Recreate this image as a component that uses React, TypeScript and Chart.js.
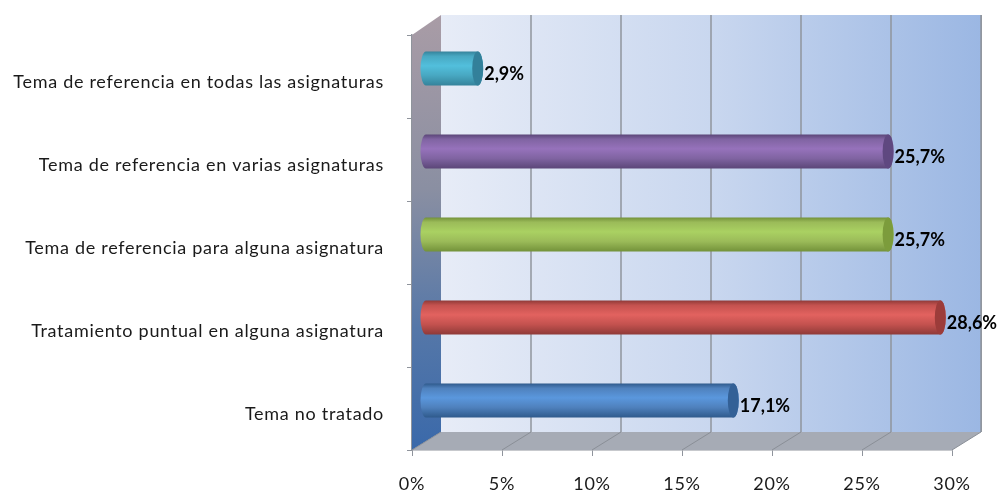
import React, { useEffect, useRef } from "react";
import { Chart, registerables } from "chart.js";

Chart.register(...registerables);

const categories = [
  "Tema de referencia en todas las asignaturas",
  "Tema de referencia en varias asignaturas",
  "Tema de referencia para alguna asignatura",
  "Tratamiento puntual en alguna asignatura",
  "Tema no tratado",
];
const values = [2.9, 25.7, 25.7, 28.6, 17.1];
const valueLabels = ["2,9%", "25,7%", "25,7%", "28,6%", "17,1%"];
const barColors = ["#48a8c2", "#8064a2", "#9bbb59", "#c4524f", "#4f81bd"];
const barLight = ["#52bfdc", "#9672bb", "#aad162", "#e2625f", "#5a97dd"];
const barDark = ["#35839b", "#5b4678", "#73923a", "#8f3a38", "#2f5a8c"];
const barCap = ["#33809a", "#5f4880", "#7c9c3c", "#9c3c3a", "#336096"];

const DX = 29;
const DY = -18;
const DY_TOP = -20;
const BAR_DX = 13.5;
const BAR_DY = -8;
const CAP_RX = 5.5;

const scene = {
  id: "scene3d",
  beforeDraw(chart: any) {
    chart.ctx.letterSpacing = "0.7px";
  },
  beforeDatasetsDraw(chart: any) {
    const { ctx, chartArea: a, scales } = chart;
    const x = scales.x;
    const { left: l, right: r, top: t, bottom: b } = a;
    ctx.save();
    // back wall
    const wall = ctx.createLinearGradient(l + DX, 0, r + DX, 0);
    wall.addColorStop(0, "#e7ecf7");
    wall.addColorStop(0.5, "#c9d7ef");
    wall.addColorStop(1, "#9bb7e3");
    ctx.fillStyle = wall;
    ctx.fillRect(l + DX, t + DY_TOP, r - l, b + DY - t - DY_TOP);
    ctx.strokeStyle = "#9a9fa8";
    ctx.lineWidth = 1;
    ctx.beginPath();
    ctx.moveTo(r + DX + 0.5, t + DY_TOP);
    ctx.lineTo(r + DX + 0.5, b + DY);
    ctx.stroke();
    // side wall
    const side = ctx.createLinearGradient(0, t + DY_TOP, 0, b);
    side.addColorStop(0, "#a99ca6");
    side.addColorStop(0.4, "#8a8fa2");
    side.addColorStop(0.72, "#5577a8");
    side.addColorStop(1, "#3a69aa");
    ctx.fillStyle = side;
    ctx.beginPath();
    ctx.moveTo(l, t);
    ctx.lineTo(l + DX, t + DY_TOP);
    ctx.lineTo(l + DX, b + DY);
    ctx.lineTo(l, b);
    ctx.closePath();
    ctx.fill();
    // floor
    ctx.fillStyle = "#a6abb5";
    ctx.beginPath();
    ctx.moveTo(l, b);
    ctx.lineTo(l + DX, b + DY);
    ctx.lineTo(r + DX, b + DY);
    ctx.lineTo(r, b);
    ctx.closePath();
    ctx.fill();
    // grid lines on wall and floor
    for (const tick of x.ticks) {
      const px = x.getPixelForValue(tick.value);
      if (tick.value > 0) {
        ctx.strokeStyle = "#8f949c";
        ctx.lineWidth = 1.5;
        ctx.beginPath();
        ctx.moveTo(px + DX, t + DY_TOP);
        ctx.lineTo(px + DX, b + DY);
        ctx.stroke();
      }
      ctx.strokeStyle = "#8a8f97";
      ctx.lineWidth = 1;
      ctx.beginPath();
      ctx.moveTo(px, b);
      ctx.lineTo(px + DX, b + DY);
      ctx.stroke();
    }
    ctx.restore();
  },
  beforeDatasetDraw(chart: any) {
    const { ctx } = chart;
    const meta = chart.getDatasetMeta(0);
    ctx.save();
    meta.data.forEach((el: any, i: number) => {
      const x0 = el.base + BAR_DX;
      const x1 = el.x + BAR_DX;
      const cy = el.y + BAR_DY;
      const h = el.height / 2;
      const g = ctx.createLinearGradient(0, cy - h, 0, cy + h);
      g.addColorStop(0, barDark[i]);
      g.addColorStop(0.14, barColors[i]);
      g.addColorStop(0.42, barLight[i]);
      g.addColorStop(0.7, barColors[i]);
      g.addColorStop(1, barDark[i]);
      ctx.fillStyle = g;
      ctx.beginPath();
      ctx.ellipse(x0, cy, CAP_RX, h, 0, Math.PI / 2, (Math.PI * 3) / 2);
      ctx.lineTo(x1, cy - h);
      ctx.ellipse(x1, cy, CAP_RX, h, 0, -Math.PI / 2, Math.PI / 2);
      ctx.closePath();
      ctx.fill();
      ctx.fillStyle = barCap[i];
      ctx.beginPath();
      ctx.ellipse(x1, cy, CAP_RX, h, 0, 0, Math.PI * 2);
      ctx.fill();
    });
    ctx.restore();
    return false;
  },
  afterDatasetsDraw(chart: any) {
    const { ctx } = chart;
    const meta = chart.getDatasetMeta(0);
    ctx.save();
    ctx.fillStyle = "#000";
    ctx.letterSpacing = "0px";
    ctx.font = "bold 18px Lato";
    ctx.textAlign = "left";
    ctx.textBaseline = "middle";
    meta.data.forEach((el: any, i: number) => {
      ctx.fillText(valueLabels[i], el.x + BAR_DX + CAP_RX + 1, el.y - 2);
    });
    ctx.restore();
  },
};

export default function App() {
  const ref = useRef<HTMLCanvasElement>(null);
  useEffect(() => {
    const chart = new Chart(ref.current as HTMLCanvasElement, {
      type: "bar",
      data: {
        labels: categories,
        datasets: [
          {
            label: "Porcentaje",
            data: values,
            backgroundColor: barColors,
            barPercentage: 0.41,
            categoryPercentage: 1,
          },
        ],
      },
      options: {
        indexAxis: "y",
        responsive: false,
        animation: false,
        layout: { padding: { top: 35, right: 48, left: 0, bottom: 0 } },
        plugins: { legend: { display: false }, tooltip: { enabled: false } },
        scales: {
          x: {
            min: 0,
            max: 30,
            afterFit: (s: any) => {
              s.height = 44;
            },
            grid: {
              drawOnChartArea: false,
              drawTicks: true,
              tickLength: 6,
              color: "#8f949c",
            },
            border: { color: "#8f949c", width: 1.5 },
            ticks: {
              stepSize: 5,
              padding: 17,
              color: "#1a1a1a",
              font: { family: "Lato", size: 18 },
              callback: (v: any) => `${v}%`,
            },
          },
          y: {
            afterFit: (s: any) => {
              s.width = 412;
            },
            grid: {
              drawOnChartArea: false,
              drawTicks: true,
              tickLength: 5,
              offset: true,
              color: "#8f949c",
            },
            border: { color: "#8f949c", width: 1.5 },
            ticks: {
              autoSkip: false,
              padding: 23,
              labelOffset: 6,
              color: "#1a1a1a",
              font: { family: "Lato", size: 18 },
            },
          },
        },
      },
      plugins: [scene],
    } as any);
    return () => chart.destroy();
  }, []);
  return (
    <div style={{ position: "fixed", left: 0, top: 0, width: 1000, height: 494, background: "#fff" }}>
      <canvas ref={ref} width={1000} height={494} style={{ display: "block" }} />
    </div>
  );
}
